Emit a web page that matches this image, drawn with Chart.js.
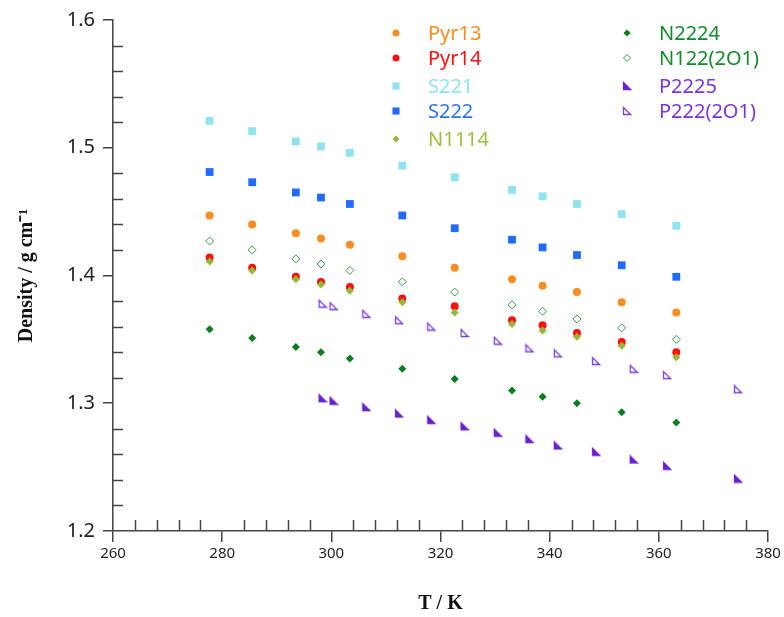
<!DOCTYPE html>
<html lang="en">
  <head>
    <meta charset="UTF-8" />
    <title>Density vs temperature</title>
    <script src="https://cdn.jsdelivr.net/npm/chart.js"></script>
    <style>
      html, body { margin: 0; padding: 0; background: #fff; }
      .chart-card { width: 784px; height: 617px; }
    </style>
  </head>
  <body>
    <div class="chart-card">
      <canvas id="densityChart"></canvas>
    </div>

    <script>
      // temperatures (K) for the common series
      const temps = [277.7, 285.5, 293.5, 298.1, 303.4, 313.0, 322.6, 333.1, 338.7, 345.0, 353.2, 363.2];
      // temperatures (K) for the phosphonium series
      const pTemps = [298.4, 300.4, 306.4, 312.4, 318.3, 324.4, 330.5, 336.3, 341.5, 348.5, 355.4, 361.5, 374.5];

      // densities (g cm-1)
      const pyr13 = [1.447, 1.440, 1.433, 1.429, 1.424, 1.415, 1.406, 1.397, 1.392, 1.387, 1.379, 1.371];
      const pyr14 = [1.414, 1.406, 1.399, 1.395, 1.391, 1.382, 1.376, 1.365, 1.361, 1.355, 1.348, 1.340];
      const s221 = [1.521, 1.513, 1.505, 1.501, 1.496, 1.486, 1.477, 1.467, 1.462, 1.456, 1.448, 1.439];
      const s222 = [1.481, 1.473, 1.465, 1.461, 1.456, 1.447, 1.437, 1.428, 1.422, 1.416, 1.408, 1.399];
      const n1114 = [1.411, 1.404, 1.397, 1.393, 1.388, 1.379, 1.371, 1.362, 1.357, 1.352, 1.345, 1.336];
      const n2224 = [1.358, 1.351, 1.344, 1.340, 1.335, 1.327, 1.319, 1.310, 1.305, 1.300, 1.293, 1.285];
      const n122 = [1.427, 1.420, 1.413, 1.409, 1.404, 1.395, 1.387, 1.377, 1.372, 1.366, 1.359, 1.350];
      const p2225 = [1.304, 1.302, 1.297, 1.292, 1.287, 1.282, 1.277, 1.272, 1.267, 1.262, 1.256, 1.251, 1.241];
      const p222 = [1.378, 1.376, 1.370, 1.365, 1.360, 1.355, 1.349, 1.343, 1.339, 1.333, 1.327, 1.322, 1.311];

      const xTicks = [260, 280, 300, 320, 340, 360, 380];
      const yTicks = [1.2, 1.3, 1.4, 1.5, 1.6];

      // right-angle triangle marker (filled or open)
      function makeTriangle(color, filled) {
        const c = document.createElement('canvas');
        c.width = 10;
        c.height = 10;
        const g = c.getContext('2d');
        g.beginPath();
        g.moveTo(1.5, 1.5);
        g.lineTo(1.5, 8.5);
        g.lineTo(8.5, 8.5);
        g.closePath();
        if (filled) {
          g.fillStyle = color;
          g.fill();
        }
        g.strokeStyle = color;
        g.lineWidth = 1.3;
        g.stroke();
        return c;
      }

      const pts = (xs, ys) => xs.map((x, i) => ({ x: x, y: ys[i] }));

      const series = [
        { label: 'Pyr13', data: pts(temps, pyr13), color: '#ff8c1e', text: '#ff8c1e', style: 'circle', radius: 4, fill: true },
        { label: 'Pyr14', data: pts(temps, pyr14), color: '#ff1010', text: '#ff1010', style: 'circle', radius: 4, fill: true },
        { label: 'S221', data: pts(temps, s221), color: '#8fe3ee', text: '#8fe3ee', style: 'rect', radius: 5.5, fill: true },
        { label: 'S222', data: pts(temps, s222), color: '#1f6bff', text: '#2f73f0', style: 'rect', radius: 5.5, fill: true },
        { label: 'N1114', data: pts(temps, n1114), color: '#96b838', text: '#9cbf3c', style: 'rectRot', radius: 4, fill: true, order: 0 },
        { label: 'N2224', data: pts(temps, n2224), color: '#0a7d1e', text: '#148a2c', style: 'rectRot', radius: 4, fill: true },
        { label: 'N122(2O1)', data: pts(temps, n122), color: '#3a9a4a', text: '#148a2c', style: 'rectRot', radius: 4, fill: false },
        { label: 'P2225', data: pts(pTemps, p2225), color: '#6a22d0', text: '#7a35e0', style: makeTriangle('#6a22d0', true), radius: 4, fill: true },
        { label: 'P222(2O1)', data: pts(pTemps, p222), color: '#7b3fe0', text: '#7a35e0', style: makeTriangle('#7b3fe0', false), radius: 4, fill: false }
      ];

      const datasets = series.map(s => ({
        label: s.label,
        data: s.data,
        showLine: false,
        pointStyle: s.style,
        pointRadius: s.radius,
        pointHoverRadius: s.radius,
        pointBackgroundColor: s.fill ? s.color : 'rgba(0,0,0,0)',
        pointBorderColor: s.color,
        pointBorderWidth: s.fill ? 0 : 1,
        order: s.order === undefined ? 1 : s.order
      }));

      // legend in two columns inside the plot
      const legendPlugin = {
        id: 'twoColLegend',
        afterDraw(chart) {
          const ctx = chart.ctx;
          const cols = [
            { mx: 396, tx: 428, rows: [33, 58, 86, 111, 139] },
            { mx: 627, tx: 659, rows: [33, 58, 86, 111] }
          ];
          ctx.save();
          ctx.font = '20px "Noto Sans"';
          ctx.textBaseline = 'middle';
          ctx.textAlign = 'left';
          let k = 0;
          cols.forEach(col => {
            col.rows.forEach(y => {
              const s = series[k++];
              ctx.fillStyle = s.fill ? s.color : 'rgba(0,0,0,0)';
              ctx.strokeStyle = s.color;
              ctx.lineWidth = s.fill ? 0 : 1;
              Chart.helpers.drawPoint(ctx, {
                pointStyle: s.style, radius: s.style === 'rect' ? 5 : 3.5, rotation: 0, borderWidth: s.fill ? 0 : 1
              }, col.mx, y);
              ctx.fillStyle = s.text;
              ctx.fillText(s.label, col.tx, y + 1);
            });
          });
          ctx.restore();
        }
      };

      // minor ticks drawn inward
      const minorTicks = {
        id: 'minorTicks',
        afterDraw(chart) {
          const ctx = chart.ctx;
          const xs = chart.scales.x;
          const ys = chart.scales.y;
          const area = chart.chartArea;
          ctx.save();
          ctx.strokeStyle = '#444';
          ctx.lineWidth = 1.5;
          ctx.beginPath();
          for (let v = 264; v < 380; v += 4) {
            if (v % 20 === 0) continue;
            const px = Math.round(xs.getPixelForValue(v)) + 0.5;
            ctx.moveTo(px, area.bottom);
            ctx.lineTo(px, area.bottom - 11);
          }
          for (let i = 1; i < 20; i++) {
            if (i % 5 === 0) continue;
            const py = Math.round(ys.getPixelForValue(1.2 + i * 0.02)) + 0.5;
            ctx.moveTo(area.left, py);
            ctx.lineTo(area.left + 10, py);
          }
          ctx.stroke();
          ctx.restore();
        }
      };

      const ctx = document.getElementById('densityChart').getContext('2d');
      new Chart(ctx, {
        type: 'scatter',
        data: { datasets: datasets },
        plugins: [legendPlugin, minorTicks],
        options: {
          responsive: true,
          maintainAspectRatio: false,
          animation: false,
          layout: { padding: { top: 20, right: 16, left: 0, bottom: 0 } },
          plugins: {
            legend: { display: false },
            tooltip: { enabled: false }
          },
          scales: {
            x: {
              type: 'linear',
              min: 260,
              max: 380,
              afterFit: scale => { scale.height = 86; },
              afterBuildTicks: scale => { scale.ticks = xTicks.map(v => ({ value: v })); },
              grid: { drawOnChartArea: false, drawTicks: true, tickLength: 11, color: '#444', lineWidth: 1.5 },
              border: { display: true, color: '#444', width: 1.5 },
              ticks: { color: '#222', font: { family: '"Noto Sans"', size: 15 }, padding: 3, maxRotation: 0 },
              title: {
                display: true,
                text: 'T / K',
                color: '#111',
                font: { family: '"Liberation Serif"', size: 20, weight: 'bold' },
                padding: { top: 4, bottom: 1 }
              }
            },
            y: {
              type: 'linear',
              min: 1.2,
              max: 1.6,
              afterFit: scale => { scale.width = 113; },
              afterBuildTicks: scale => { scale.ticks = yTicks.map(v => ({ value: v })); },
              grid: { drawOnChartArea: false, drawTicks: true, tickLength: 10, color: '#444', lineWidth: 1.5 },
              border: { display: true, color: '#444', width: 1.5 },
              ticks: {
                color: '#222',
                font: { family: '"Noto Sans"', size: 20 },
                padding: 8,
                callback: v => v.toFixed(1)
              },
              title: {
                display: true,
                text: 'Density / g cm\u207B\u00B9',
                color: '#111',
                font: { family: '"Liberation Serif"', size: 20, weight: 'bold' },
                padding: { top: 15, bottom: 4 }
              }
            }
          }
        }
      });
    </script>
  </body>
</html>
